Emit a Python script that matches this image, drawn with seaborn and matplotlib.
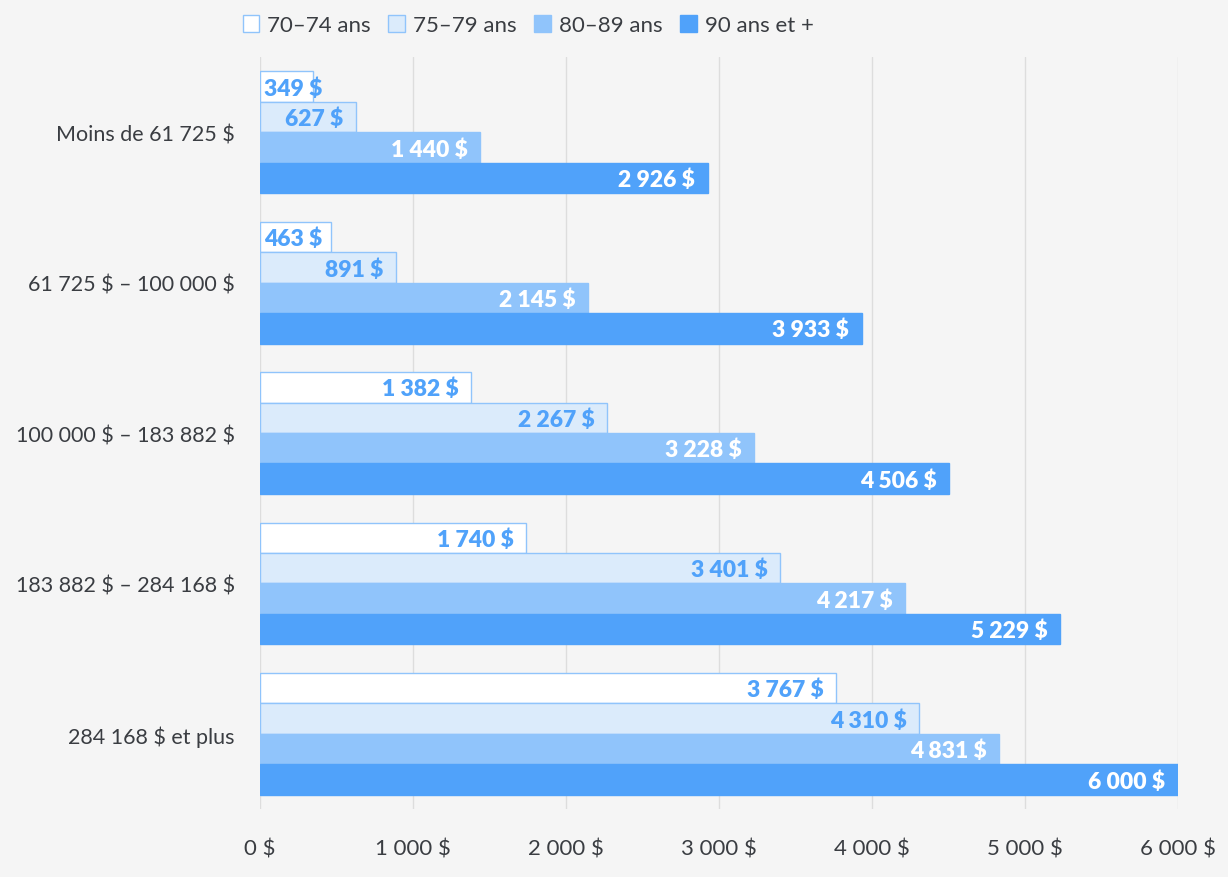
import pandas as pd
import seaborn as sns
import matplotlib.pyplot as plt
from matplotlib.patches import Patch

categories = ['Moins de 61 725 $', '61 725 $ – 100 000 $', '100 000 $ – 183 882 $',
              '183 882 $ – 284 168 $', '284 168 $ et plus']
age_groups = ['70–74 ans', '75–79 ans', '80–89 ans', '90 ans et +']
vals_70_74 = [349, 463, 1382, 1740, 3767]
vals_75_79 = [627, 891, 2267, 3401, 4310]
vals_80_89 = [1440, 2145, 3228, 4217, 4831]
vals_90 = [2926, 3933, 4506, 5229, 6000]
x_ticks = [0, 1000, 2000, 3000, 4000, 5000, 6000]

fill_colors = ['#ffffff', '#dbebfb', '#90c4fb', '#50a2fa']
edge_colors = ['#90c4fb', '#90c4fb', '#90c4fb', '#50a2fa']
label_colors = ['#50a2fa', '#50a2fa', '#ffffff', '#ffffff']
bg = '#f5f5f5'
text_col = '#3a3d42'


def fmt(v):
  return '{:,}'.format(v).replace(',', ' ') + ' $'


rows = []
for age, series in zip(age_groups, [vals_70_74, vals_75_79, vals_80_89, vals_90]):
  for cat, v in zip(categories, series):
    rows.append(dict(cat=cat, age=age, val=v))
df = pd.DataFrame(rows)

sns.set_style('white')
plt.rcParams['font.family'] = ['Lato', 'DejaVu Sans']
# the $ signs are plain text here, not math
plt.rcParams['text.parse_math'] = False

fig = plt.figure(figsize=(12.28, 8.78), dpi=100, facecolor=bg)
ax = fig.add_axes([0.2117, 0.0774, 0.7476, 0.8565])
ax.set_facecolor(bg)

sns.barplot(data=df, y='cat', x='val', hue='age', order=categories, hue_order=age_groups,
            palette=fill_colors, orient='h', width=0.81, gap=0, saturation=1,
            legend=False, ax=ax)

ax.set_xlim(0, 6000)
ax.set_ylim(4.5, -0.5)

renderer = fig.canvas.get_renderer()
ax_left_px = ax.transData.transform((0, 0))[0]
for i, cont in enumerate(ax.containers):
  for bar, v in zip(cont, [vals_70_74, vals_75_79, vals_80_89, vals_90][i]):
    bar.set_edgecolor(edge_colors[i])
    bar.set_linewidth(1.0)
    yc = bar.get_y() + bar.get_height() / 2
    t = ax.annotate(fmt(v), (v, yc), xytext=(-9, -1), textcoords='offset points',
                    ha='right', va='center', color=label_colors[i], fontsize=16.5,
                    fontweight='heavy', zorder=5)
    # labels that do not fit are pushed right so they start at the bar's base
    x0 = t.get_window_extent(renderer).x0
    if x0 < ax_left_px + 4:
      shift = (ax_left_px + 4 - x0) * 72 / fig.dpi
      t.set_position((-9 + shift, -1))

ax.set_xticks(x_ticks)
ax.set_xticklabels([fmt(t) for t in x_ticks])
ax.grid(axis='x', color='#dddddd', linewidth=1)
ax.set_axisbelow(True)
for s in ax.spines.values():
  s.set_visible(False)
ax.tick_params(axis='both', length=0, labelsize=16, labelcolor=text_col)
ax.tick_params(axis='y', labelsize=15.5)
ax.tick_params(axis='x', pad=21)
ax.tick_params(axis='y', pad=18)
ax.set_xlabel('')
ax.set_ylabel('')

handles = [Patch(facecolor=f, edgecolor=e, linewidth=1) for f, e in zip(fill_colors, edge_colors)]
fig.legend(handles, age_groups, loc='center', bbox_to_anchor=(0.43, 0.97), ncol=4,
           frameon=False, fontsize=16, handlelength=0.75, handleheight=0.75,
           handletextpad=0.35, columnspacing=0.8, labelcolor=text_col)

fig.savefig('out.png', dpi=100, facecolor=bg)
